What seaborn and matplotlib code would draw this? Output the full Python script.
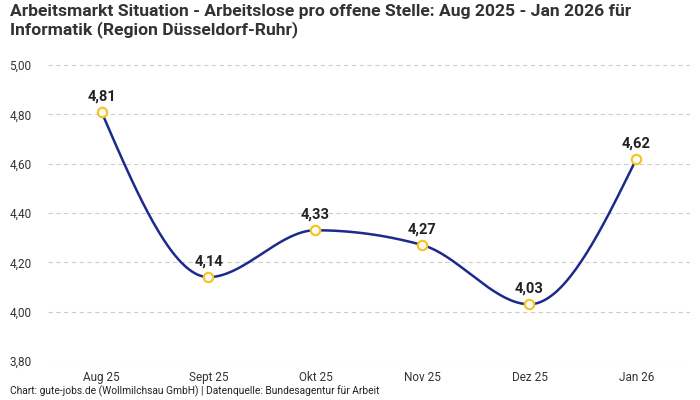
import numpy as np
import pandas as pd
import seaborn as sns
import matplotlib.pyplot as plt

months = ["Aug 25", "Sept 25", "Okt 25", "Nov 25", "Dez 25", "Jan 26"]
values = [4.81, 4.14, 4.33, 4.27, 4.03, 4.62]
y_ticks = [3.80, 4.00, 4.20, 4.40, 4.60, 4.80, 5.00]

title = ("Arbeitsmarkt Situation - Arbeitslose pro offene Stelle: Aug 2025 - Jan 2026 für\n"
         "Informatik (Region Düsseldorf-Ruhr)")
source = "Chart: gute-jobs.de (Wollmilchsau GmbH) | Datenquelle: Bundesagentur für Arbeit"

LINE = "#1c2a8c"
MARK = "#f7c325"


def monotone_x(x, y, n=40):
    # d3 curveMonotoneX style smoothing
    x = np.asarray(x, float)
    y = np.asarray(y, float)
    h = np.diff(x)
    s = np.diff(y) / h
    t = np.zeros_like(y)
    for i in range(1, len(y) - 1):
        p = (s[i - 1] * h[i] + s[i] * h[i - 1]) / (h[i - 1] + h[i])
        t[i] = (np.sign(s[i - 1]) + np.sign(s[i])) * min(abs(s[i - 1]), abs(s[i]), 0.5 * abs(p)) or 0
    t[0] = (3 * s[0] - t[1]) / 2 if len(y) > 2 else s[0]
    t[-1] = (3 * s[-1] - t[-2]) / 2 if len(y) > 2 else s[-1]
    xs, ys = [], []
    for i in range(len(h)):
        u = np.linspace(0, 1, n)
        h00 = 2 * u**3 - 3 * u**2 + 1
        h10 = u**3 - 2 * u**2 + u
        h01 = -2 * u**3 + 3 * u**2
        h11 = u**3 - u**2
        xs.append(x[i] + u * h[i])
        ys.append(h00 * y[i] + h10 * h[i] * t[i] + h01 * y[i + 1] + h11 * h[i] * t[i + 1])
    return np.concatenate(xs), np.concatenate(ys)


df = pd.DataFrame({"pos": np.arange(len(months)), "month": months, "value": values})
cx, cy = monotone_x(df["pos"], df["value"])
curve = pd.DataFrame({"pos": cx, "value": cy})

sns.set_theme(style="white")
plt.rcParams["font.family"] = ["Roboto", "DejaVu Sans"]

fig = plt.figure(figsize=(7, 4), dpi=100)
ax = fig.add_axes([0.0686, 0.0975, 0.917, 0.74])

sns.lineplot(data=curve, x="pos", y="value", color=LINE, linewidth=1.8, ax=ax, zorder=2)
sns.scatterplot(data=df, x="pos", y="value", s=45, facecolor="white", edgecolor=MARK,
                linewidth=1.6, ax=ax, zorder=3)

for _, r in df.iterrows():
    ax.annotate(f"{r['value']:.2f}".replace(".", ","), (r["pos"], r["value"]),
                xytext=(0, 6), textcoords="offset points", ha="center", va="bottom",
                fontsize=10.5, fontweight="bold", color="#222222")

ax.set_xlim(-0.5, 5.5)
ax.set_ylim(3.80, 5.00)
ax.set_xticks(df["pos"])
ax.set_xticklabels(months)
ax.set_yticks(y_ticks)
ax.set_yticklabels([f"{v:.2f}".replace(".", ",") for v in y_ticks])
ax.tick_params(axis="both", length=0, labelsize=8.5, colors="#333333")
ax.tick_params(axis="x", pad=7)
ax.tick_params(axis="y", pad=12)
ax.set_xlabel("")
ax.set_ylabel("")
ax.grid(axis="y", color="#cccccc", linestyle=(0, (4, 3)), linewidth=0.8)
ax.set_axisbelow(True)
sns.despine(ax=ax, left=True, bottom=True)

fig.text(0.014, 0.99, title, ha="left", va="top", fontsize=12.6, fontweight="bold",
         color="#333333", linespacing=1.15)
fig.text(0.014, 0.008, source, ha="left", va="bottom", fontsize=7.4, color="#222222")

fig.savefig("out.png", dpi=100)
